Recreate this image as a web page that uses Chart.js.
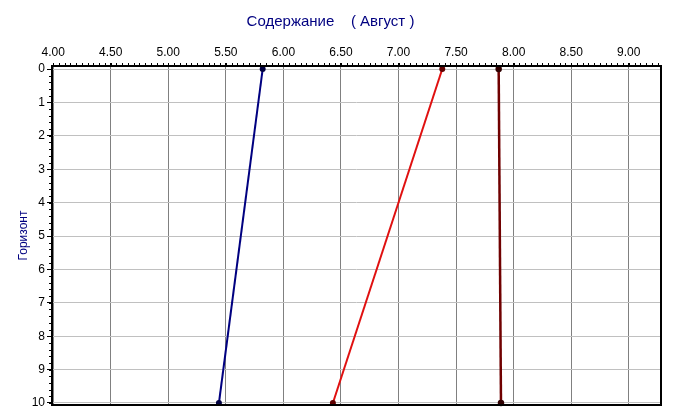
<!DOCTYPE html>
<html>
<head>
<meta charset="utf-8">
<script src="https://cdn.jsdelivr.net/npm/chart.js@4/dist/chart.umd.min.js"></script>
<style>
  html, body { margin: 0; padding: 0; background: #fff; }
  #chart { display: block; }
</style>
</head>
<body>
<canvas id="chart" width="675" height="419"></canvas>
<script>
// ── Data ──────────────────────────────────────────────────────────────────
const depths     = [0, 10];
const seriesBlue = [5.82, 5.44];
const seriesRed  = [7.38, 6.43];
const seriesDark = [7.87, 7.89];

const xTicks = [4.0, 4.5, 5.0, 5.5, 6.0, 6.5, 7.0, 7.5, 8.0, 8.5, 9.0];
const yTicks = [0, 1, 2, 3, 4, 5, 6, 7, 8, 9, 10];

const toPoints = (vals) => vals.map((v, i) => ({ x: v, y: depths[i] }));

// frame + minor ticks
const framePlugin = {
  id: "frame",
  afterDraw(chart) {
    const { ctx, chartArea: a, scales } = chart;
    const x = scales.x, y = scales.y;
    ctx.save();
    ctx.strokeStyle = "#000";
    ctx.lineWidth = 1;
    ctx.beginPath();
    for (let v = 4.0; v <= 9.28; v += 0.05) {
      const px = Math.round(x.getPixelForValue(v)) + 0.5;
      ctx.moveTo(px, a.top - 3);
      ctx.lineTo(px, a.top);
    }
    for (let v = 0; v <= 10.001; v += 0.2) {
      const py = Math.round(y.getPixelForValue(v)) + 0.5;
      ctx.moveTo(a.left - 3, py);
      ctx.lineTo(a.left, py);
    }
    ctx.stroke();
    ctx.lineWidth = 2;
    ctx.strokeRect(a.left, a.top, a.right - a.left, a.bottom - a.top);
    ctx.restore();
  },
};

const font = "Liberation Sans, Arial, sans-serif";

new Chart(document.getElementById("chart"), {
  type: "scatter",
  data: {
    datasets: [
      {
        data: toPoints(seriesBlue),
        showLine: true,
        borderColor: "#000080",
        borderWidth: 2,
        pointRadius: 2,
        pointBackgroundColor: "#000040",
        pointBorderColor: "#000040",
      },
      {
        data: toPoints(seriesRed),
        showLine: true,
        borderColor: "#e01010",
        borderWidth: 2,
        pointRadius: 2,
        pointBackgroundColor: "#600000",
        pointBorderColor: "#600000",
      },
      {
        data: toPoints(seriesDark),
        showLine: true,
        borderColor: "#700000",
        borderWidth: 2.5,
        pointRadius: 2,
        pointBackgroundColor: "#300000",
        pointBorderColor: "#300000",
      },
    ],
  },
  options: {
    responsive: false,
    animation: false,
    clip: false,
    layout: { padding: { left: 0, right: 14, top: 0, bottom: 14 } },
    plugins: {
      legend: { display: false },
      tooltip: { enabled: false },
      title: {
        display: true,
        text: "Содержание    ( Август )",
        color: "#000080",
        font: { family: font, size: 15, weight: "normal", lineHeight: 1 },
        padding: { top: 14, bottom: 10 },
      },
    },
    scales: {
      x: {
        type: "linear",
        position: "top",
        min: 3.99,
        max: 9.28,
        afterBuildTicks: (s) => { s.ticks = xTicks.map((v) => ({ value: v })); },
        afterFit: (s) => { s.height = 27; },
        grid: { color: "#808080", tickColor: "#000", tickLength: 3 },
        border: { display: false },
        ticks: {
          color: "#000",
          padding: 3,
          maxRotation: 0,
          autoSkip: false,
          font: { family: font, size: 12 },
          callback: (v) => Number(v).toFixed(2),
        },
      },
      y: {
        type: "linear",
        reverse: true,
        min: -0.09,
        max: 10.06,
        afterBuildTicks: (s) => { s.ticks = yTicks.map((v) => ({ value: v })); },
        afterFit: (s) => { s.width = 52; },
        grid: { color: "#c0c0c0", tickColor: "#000", tickLength: 5 },
        border: { display: false },
        title: {
          display: true,
          text: "Горизонт",
          color: "#000080",
          font: { family: font, size: 12 },
          padding: { top: 16, bottom: 0 },
        },
        ticks: {
          color: "#000",
          padding: 2,
          autoSkip: false,
          font: { family: font, size: 12 },
        },
      },
    },
  },
  plugins: [framePlugin],
});
</script>
</body>
</html>
